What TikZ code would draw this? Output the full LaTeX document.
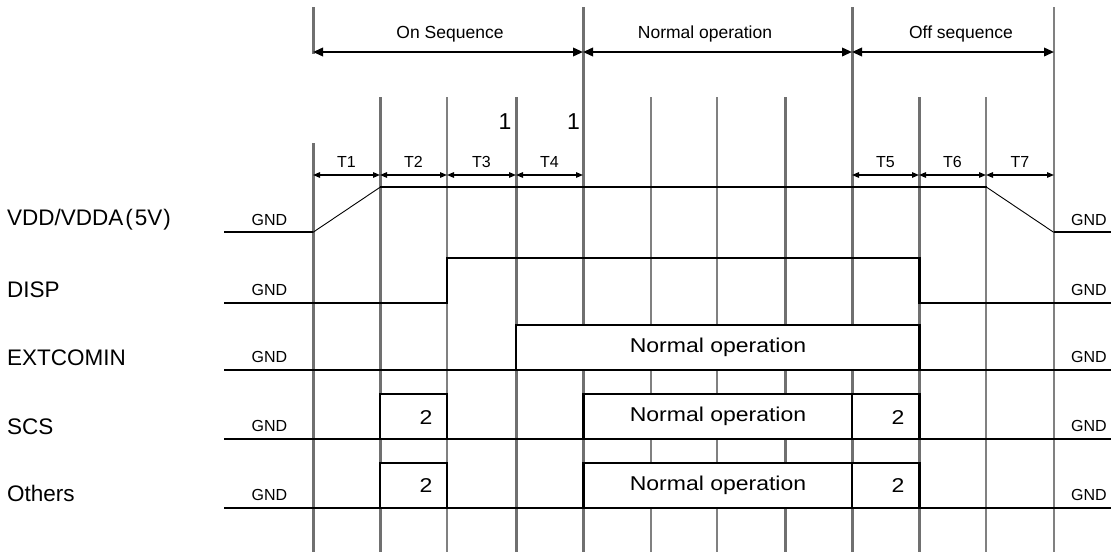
\documentclass[tikz,border=0pt]{standalone}
\usepackage{fontspec}
\setmainfont{Liberation Sans}
\newfontfamily\widefont[FakeStretch=1.15]{Liberation Sans}
\usetikzlibrary{arrows.meta}
\definecolor{gridgray}{HTML}{707070}
\definecolor{gridlight}{HTML}{808080}
\begin{document}
\begin{tikzpicture}[x=1pt,y=-1pt,
  gridline/.style={draw=gridgray,line width=3pt},
  gridthin/.style={draw=gridlight,line width=2.8pt},
  signal/.style={draw=black,line width=2.2pt,line join=miter},
  sbox/.style={draw=black,fill=white,line width=2.2pt,line join=miter},
  ramp/.style={draw=black,line width=0.9pt},
  bigarrow/.style={draw=black,line width=2pt,{Triangle[length=10pt,width=8.5pt]}-{Triangle[length=10pt,width=8.5pt]}},
  tarrow/.style={draw=black,line width=1.3pt,{Triangle[length=7pt,width=5.5pt]}-{Triangle[length=7pt,width=5.5pt]}},
  toplbl/.style={inner sep=0pt,anchor=base,font=\fontsize{17.5}{20}\selectfont},
  tlbl/.style={inner sep=0pt,anchor=base,font=\fontsize{16}{19}\selectfont},
  gndlbl/.style={inner sep=0pt,anchor=base,font=\fontsize{16}{19}\selectfont},
  siglbl/.style={inner sep=0pt,anchor=base west,font=\fontsize{22.5}{26}\selectfont},
  boxlbl/.style={inner sep=0pt,font=\widefont\fontsize{20}{23}\selectfont},
  notelbl/.style={inner sep=0pt,anchor=base east,font=\fontsize{23}{26}\selectfont}]
\useasboundingbox (0,0) rectangle (1111,552);

% grid line positions
\coordinate (x0) at (313,0);
\coordinate (x1) at (380,0);
\coordinate (x2) at (447,0);
\coordinate (x3) at (516,0);
\coordinate (x4) at (583,0);
\coordinate (x5) at (651,0);
\coordinate (x6) at (717,0);
\coordinate (x7) at (785,0);
\coordinate (x8) at (852,0);
\coordinate (x9) at (919,0);
\coordinate (x10) at (986,0);
\coordinate (x11) at (1054,0);

% vertical grid lines
\draw[gridline] (x0 |- 0,7) -- (x0 |- 0,54);
\draw[gridline] (x0 |- 0,143) -- (x0 |- 0,552);
\draw[gridline] (x1 |- 0,97) -- (x1 |- 0,552);
\draw[gridthin] (x2 |- 0,97) -- (x2 |- 0,552);
\draw[gridline] (x3 |- 0,97) -- (x3 |- 0,552);
\draw[gridline] (x4 |- 0,7) -- (x4 |- 0,552);
\draw[gridthin] (x5 |- 0,97) -- (x5 |- 0,552);
\draw[gridthin] (x6 |- 0,97) -- (x6 |- 0,552);
\draw[gridline] (x7 |- 0,97) -- (x7 |- 0,552);
\draw[gridline] (x8 |- 0,7) -- (x8 |- 0,552);
\draw[gridline] (x9 |- 0,97) -- (x9 |- 0,552);
\draw[gridthin] (x10 |- 0,97) -- (x10 |- 0,552);
\draw[gridthin] (x11 |- 0,7) -- (x11 |- 0,552);

% phase arrows
\draw[bigarrow] (x0 |- 0,52) -- (x4 |- 0,52);
\draw[bigarrow] (x4 |- 0,52) -- (x8 |- 0,52);
\draw[bigarrow] (x8 |- 0,52) -- (x11 |- 0,52);
\node[toplbl] (onseq) at (450,38.3) {On Sequence};
\node[toplbl] (normop) at (705,38.3) {Normal operation};
\node[toplbl] (offseq) at (961,38.3) {Off sequence};

% timing arrows
\draw[tarrow] (x0 |- 0,175) -- (x1 |- 0,175);
\draw[tarrow] (x1 |- 0,175) -- (x2 |- 0,175);
\draw[tarrow] (x2 |- 0,175) -- (x3 |- 0,175);
\draw[tarrow] (x3 |- 0,175) -- (x4 |- 0,175);
\draw[tarrow] (x8 |- 0,175) -- (x9 |- 0,175);
\draw[tarrow] (x9 |- 0,175) -- (x10 |- 0,175);
\draw[tarrow] (x10 |- 0,175) -- (x11 |- 0,175);
\node[tlbl] (t1) at (346.5,167) {T1};
\node[tlbl] (t2) at (413.5,167) {T2};
\node[tlbl] (t3) at (481.5,167) {T3};
\node[tlbl] (t4) at (549.5,167) {T4};
\node[tlbl] (t5) at (885.5,167) {T5};
\node[tlbl] (t6) at (952.5,167) {T6};
\node[tlbl] (t7) at (1020,167) {T7};
\node[notelbl] (n1a) at (511.5,129.5) {1};
\node[notelbl] (n1b) at (580,129.5) {1};

% signal names
\node[siglbl] (vdd) at (7,225.2) {VDD/VDDA\kern2pt(\kern2pt5V\kern1pt)};
\node[siglbl] (disp) at (7,297) {DISP};
\node[siglbl] (ext) at (7,365) {EXTCOMIN};
\node[siglbl] (scs) at (7,434.2) {SCS};
\node[siglbl] (oth) at (7,501.5) {Others};

% GND labels
\foreach \nm/\yy in {g1/225.3,g2/295.7,g3/362.7,g4/431.9,g5/500.3}{
  \node[gndlbl] (\nm l) at (269.5,\yy) {GND};
  \node[gndlbl] (\nm r) at (1089,\yy) {GND};
}

% VDD
\coordinate (v0) at (224,232.3);
\coordinate (v1) at (313,232.3);
\coordinate (v2) at (380,187.3);
\coordinate (v3) at (986.7,187.3);
\coordinate (v4) at (1053.7,232.3);
\coordinate (v5) at (1111,232.3);
\draw[signal] (v0) -- (v1);
\draw[ramp] (v1) -- (v2);
\draw[signal] (v2) -- (v3);
\draw[ramp] (v3) -- (v4);
\draw[signal] (v4) -- (v5);

% DISP
\coordinate (d0) at (224,302.7);
\coordinate (d5) at (1111,302.7);
\draw[signal] (d0) -- (447,302.7) -- (447,258.3) -- (919.5,258.3) -- (919.5,302.7) -- (d5);

% EXTCOMIN
\coordinate (e0) at (224,370);
\coordinate (e5) at (1111,370);
\draw[signal] (e0) -- (e5);
\draw[sbox] (516,370) rectangle (919.5,325);
\node[boxlbl] (eno) at (718,347.7) {Normal operation};

% SCS
\coordinate (s0) at (224,438.7);
\coordinate (s5) at (1111,438.7);
\draw[signal] (s0) -- (s5);
\draw[sbox] (380,438.7) rectangle (447,394);
\draw[sbox] (583.5,438.7) rectangle (852,394);
\draw[sbox] (852,438.7) rectangle (919.5,394);
\node[boxlbl] (s2a) at (426,417.5) {2};
\node[boxlbl] (sno) at (718,416.7) {Normal operation};
\node[boxlbl] (s2b) at (898,417.5) {2};

% Others
\coordinate (o0) at (224,507.7);
\coordinate (o5) at (1111,507.7);
\draw[signal] (o0) -- (o5);
\draw[sbox] (380,507.7) rectangle (447,463);
\draw[sbox] (583.5,507.7) rectangle (852,463);
\draw[sbox] (852,507.7) rectangle (919.5,463);
\node[boxlbl] (o2a) at (426,486) {2};
\node[boxlbl] (ono) at (718,485) {Normal operation};
\node[boxlbl] (o2b) at (898,486) {2};
\end{tikzpicture}
\end{document}
